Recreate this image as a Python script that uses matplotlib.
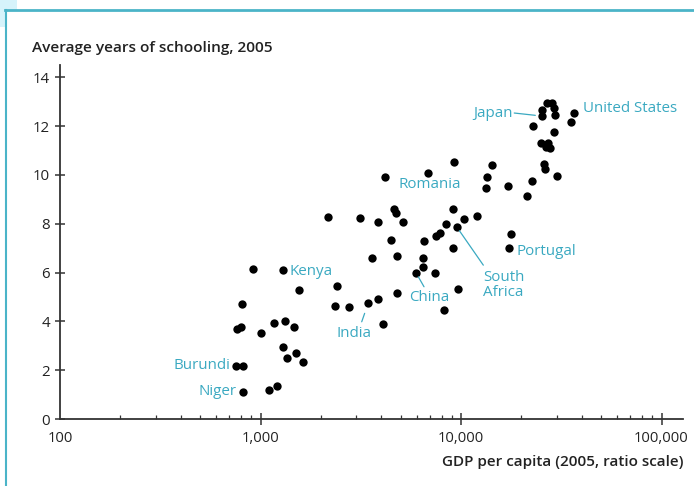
import matplotlib
matplotlib.use("Agg")
from matplotlib import pyplot as plt
from matplotlib.patches import Rectangle
from matplotlib.lines import Line2D
from matplotlib.ticker import FixedLocator, LogLocator, NullFormatter

plt.rcParams['font.family'] = ['Open Sans', 'DejaVu Sans']

# GDP per capita (2005 dollars) and average years of schooling
gdp = [920, 1290, 811, 1550, 2399, 2353, 766, 796, 1006, 1168,
       1325, 1475, 1290, 1360, 1504, 1624, 752, 821, 821, 1099,
       1213, 3585, 4779, 2773, 3449, 3842, 4779, 4098, 4178, 6870,
       9229, 14330, 13440, 13280, 2179, 3135, 3868, 4649, 4725, 5155,
       4461, 6540, 7504, 7859, 8390, 9155, 9520, 10390, 11975, 9092,
       6442, 6486, 5965, 7418, 9628, 8228, 17760, 17415, 17100, 21270,
       22680, 30020, 25940, 26240, 24980, 27250, 27790, 26450, 29200, 22860,
       26760, 28350, 25270, 25270, 29100, 29430, 36740, 35250]
school = [6.13, 6.10, 4.70, 5.28, 5.46, 4.64, 3.67, 3.78, 3.51, 3.92,
          4.03, 3.76, 2.94, 2.51, 2.69, 2.35, 2.18, 2.18, 1.12, 1.18,
          1.35, 6.58, 6.67, 4.57, 4.76, 4.90, 5.15, 3.89, 9.90, 10.09,
          10.51, 10.40, 9.92, 9.47, 8.28, 8.22, 8.08, 8.60, 8.42, 8.05,
          7.33, 7.29, 7.51, 7.60, 7.99, 8.59, 7.87, 8.19, 8.33, 7.01,
          6.58, 6.24, 5.99, 5.99, 5.31, 4.46, 7.56, 7.01, 9.54, 9.13,
          9.76, 9.95, 10.44, 10.24, 11.29, 11.31, 11.09, 11.15, 11.77, 11.99,
          12.93, 12.93, 12.65, 12.41, 12.72, 12.45, 12.54, 12.17]

# labelled countries: name -> index into the arrays above
countries = {'Kenya': 1, 'Burundi': 16, 'Niger': 18, 'India': 24, 'Romania': 28,
             'South\nAfrica': 46, 'China': 52, 'Portugal': 57, 'Japan': 73,
             'United States': 76}

xticks = [100, 1000, 10000, 100000]
xticklabels = ['100', '1,000', '10,000', '100,000']
yticks = [0, 2, 4, 6, 8, 10, 12, 14]

teal = '#3aa9c1'
axis_col = '#333333'

fig = plt.figure(figsize=(6.94, 4.86), dpi=100)

# frame decoration around the slide
fig.patches.append(Rectangle((0, 1 - 10/486), 17/694, 10/486, transform=fig.transFigure,
                             facecolor='#d6f3fb', edgecolor='none', zorder=0))
fig.patches.append(Rectangle((0, 1 - 27/486), 5/694, 17/486, transform=fig.transFigure,
                             facecolor='#d6f3fb', edgecolor='none', zorder=0))
fig.lines.append(Line2D([5/694, 1], [1 - 10.5/486, 1 - 10.5/486], transform=fig.transFigure,
                        color='#4bb4c8', lw=2))
fig.lines.append(Line2D([5.5/694, 5.5/694], [0, 1 - 10.5/486], transform=fig.transFigure,
                        color='#4bb4c8', lw=1.5))

ax = fig.add_axes([60/694, 67/486, 623/694, 354/486])
ax.scatter(gdp, school, s=36, color='black', zorder=3, linewidths=0)

ax.set_xscale('log')
ax.set_xlim(100, 128000)
ax.set_ylim(0, 14.5)

ax.xaxis.set_major_locator(FixedLocator(xticks))
ax.set_xticklabels(xticklabels)
ax.xaxis.set_minor_locator(LogLocator(base=10, subs=range(2, 10)))
ax.xaxis.set_minor_formatter(NullFormatter())
ax.set_yticks(yticks)

for side in ['top', 'right']:
    ax.spines[side].set_visible(False)
for side in ['left', 'bottom']:
    ax.spines[side].set_color(axis_col)
    ax.spines[side].set_linewidth(1.3)

ax.tick_params(axis='y', direction='inout', length=7.5, width=1.1, color=axis_col,
               labelsize=10.8, pad=3.5, labelcolor='#222222')
ax.tick_params(axis='x', which='major', direction='inout', length=8.5, width=1.1,
               color=axis_col, labelsize=10.6, pad=4.5, labelcolor='#222222')
ax.tick_params(axis='x', which='minor', direction='in', length=3, width=0.9, color=axis_col)
ax.xaxis.get_major_ticks()[0].tick1line.set_visible(False)

# country labels, offsets in pixels from their dot
label_pos = {'Kenya': (6.5, -1.5, 'left'), 'Burundi': (-5, 0.7, 'right'),
             'Niger': (-7, 0, 'right'), 'India': (-14, -31, 'center'),
             'Romania': (13, -6.7, 'left'), 'South\nAfrica': (26.6, -58, 'left'),
             'China': (-6.5, -24.3, 'left'), 'Portugal': (7.4, -4, 'left'),
             'Japan': (-28.7, 3, 'right'), 'United States': (8.7, 4.4, 'left')}
for name, i in countries.items():
    dx, dy, ha = label_pos[name]
    ax.annotate(name, (gdp[i], school[i]), xytext=(dx, dy), textcoords='offset pixels',
                ha=ha, va='center', color=teal, fontsize=10.9, linespacing=1.0)

# leader lines: start and end offsets in pixels from the dot
leaders = {'India': ((-6.6, -19), (-4.3, -10.3)), 'China': ((8, -14), (2.3, -4)),
           'South\nAfrica': ((26.6, -38.3), (3.3, -3.3)), 'Japan': ((-27.5, 3), (-5.7, 3))}
for name, (a, b) in leaders.items():
    i = countries[name]
    ax.annotate('', (gdp[i], school[i]), xytext=a, textcoords='offset pixels',
                arrowprops=dict(arrowstyle='-', color=teal, lw=0.9, shrinkA=0,
                                shrinkB=((b[0]**2 + b[1]**2) ** 0.5) * 0.72))

fig.text(31.7/694, 1 - 48/486, 'Average years of schooling, 2005', ha='left', va='center',
         fontsize=11.1, fontweight='semibold', color='#222222')
fig.text(683/694, 1 - 461.7/486, 'GDP per capita (2005, ratio scale)', ha='right', va='center',
         fontsize=11, fontweight='semibold', color='#222222')

fig.savefig('out.png', dpi=100)
